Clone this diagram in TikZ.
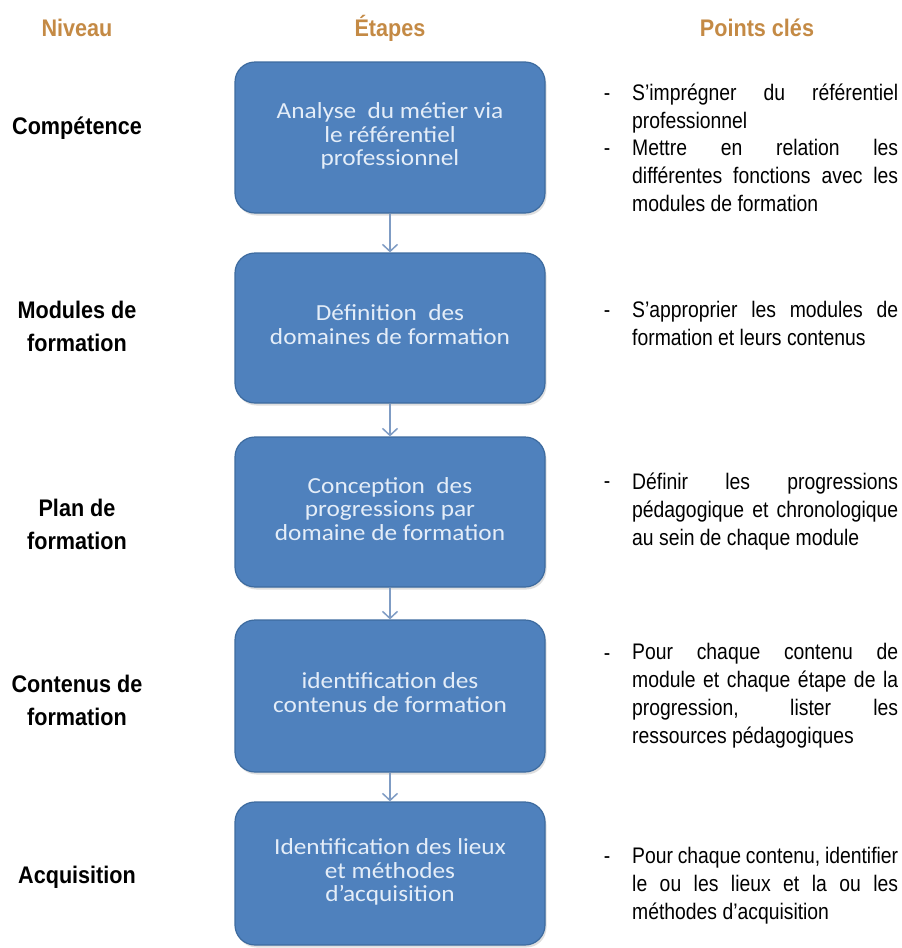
\documentclass[tikz,border=0pt]{standalone}
\usepackage{fontspec}
\setmainfont{Liberation Sans}
\newfontfamily\headfont[FakeStretch=0.9]{Liberation Sans}
\newfontfamily\notefont[FakeStretch=0.86]{Liberation Sans}
\newfontfamily\stepfont[FakeStretch=1.1]{Carlito}
\usetikzlibrary{arrows.meta,shadows}
\definecolor{headcol}{HTML}{C48A45}
\definecolor{stepfill}{HTML}{4F81BD}
\definecolor{stepline}{HTML}{3D6B9F}
\definecolor{steptext}{HTML}{E4EDF8}
\definecolor{linkcol}{HTML}{7F9CC4}
% a justified line of the right-hand notes
\newcommand{\jline}[1]{\makebox[266pt][s]{\strut#1}}
\newcommand{\rline}[1]{\strut#1}

\begin{document}
\begin{tikzpicture}[x=1pt,y=-1pt,
  header/.style={font=\headfont\bfseries\fontsize{24}{28}\selectfont, text=headcol, inner sep=0pt},
  level/.style={font=\headfont\bfseries\fontsize{24}{33}\selectfont, align=center, inner sep=0pt},
  stepbox/.style={draw=stepline, line width=1.2pt, fill=stepfill, rounded corners=20pt,
    minimum width=310pt, text=steptext, font=\stepfont\fontsize{23}{22}\selectfont,
    align=center, inner sep=0pt,
    drop shadow={opacity=0.25, shadow xshift=1.5pt, shadow yshift=-2.5pt}},
  note/.style={font=\notefont\fontsize{22.5}{28}\selectfont, align=left, anchor=west, inner sep=0pt},
  dashmark/.style={font=\notefont\fontsize{22.5}{28}\selectfont, inner sep=0pt},
  link/.style={draw=linkcol, line width=1.5pt, -{Straight Barb[length=7pt,width=15pt]}}
]
\useasboundingbox (0,0) rectangle (902,948);

% column headers
\node[header] (hNiveau) at (77,28) {Niveau};
\node[header] (hEtapes) at (390,28) {Étapes};
\node[header] (hPoints) at (757,28) {Points clés};

% levels
\node[level] (l1) at (77,128) {\strut Compétence};
\node[level] (l2) at (77,328) {\strut Modules de\\\strut formation};
\node[level] (l3) at (77,526) {\strut Plan de\\\strut formation};
\node[level] (l4) at (77,702) {\strut Contenus de\\\strut formation};
\node[level] (l5) at (77,877) {\strut Acquisition};

% steps
\node[stepbox, minimum height=151pt] (s1) at (390,137.5)
  {\strut Analyse\ \ du métier via\\\strut le référentiel\\\strut professionnel};
\node[stepbox, minimum height=150pt] (s2) at (390,328)
  {\strut Définition\ \ des\\\strut domaines de formation};
\node[stepbox, minimum height=150pt] (s3) at (390,512)
  {\strut Conception\ \ des\\\strut progressions par\\\strut domaine de formation};
\node[stepbox, minimum height=152pt] (s4) at (390,696)
  {\strut identification des\\\strut contenus de formation};
\node[stepbox, minimum height=143pt] (s5) at (390,873.5)
  {\strut Identification des lieux\\\strut et méthodes\\\strut d’acquisition};

\draw[link] (s1.south) -- (s2.north);
\draw[link] (s2.south) -- (s3.north);
\draw[link] (s3.south) -- (s4.north);
\draw[link] (s4.south) -- (s5.north);

% key points
\node[dashmark] (d1) at (607,95) {\strut-};
\node[note] (p1) at (632,108.5)
  {\jline{S’imprégner du référentiel}\\\rline{professionnel}};
\node[dashmark] (d2) at (607,150) {\strut-};
\node[note] (p2) at (632,178)
  {\jline{Mettre en relation les}\\\jline{différentes fonctions avec les}\\\rline{modules de formation}};
\node[dashmark] (d3) at (607,312) {\strut-};
\node[note] (p3) at (632,326)
  {\jline{S’approprier les modules de}\\\rline{formation et leurs contenus}};
\node[dashmark] (d4) at (607,483) {\strut-};
\node[note] (p4) at (632,512)
  {\jline{Définir les progressions}\\\jline{pédagogique et chronologique}\\\rline{au sein de chaque module}};
\node[dashmark] (d5) at (607,655) {\strut-};
\node[note] (p5) at (632,695.5)
  {\jline{Pour chaque contenu de}\\\jline{module et chaque étape de la}\\\jline{progression, lister les}\\\rline{ressources pédagogiques}};
\node[dashmark] (d6) at (607,858) {\strut-};
\node[note] (p6) at (632,885.5)
  {\jline{Pour chaque contenu, identifier}\\\jline{le ou les lieux et la ou les}\\\rline{méthodes d’acquisition}};
\end{tikzpicture}
\end{document}
